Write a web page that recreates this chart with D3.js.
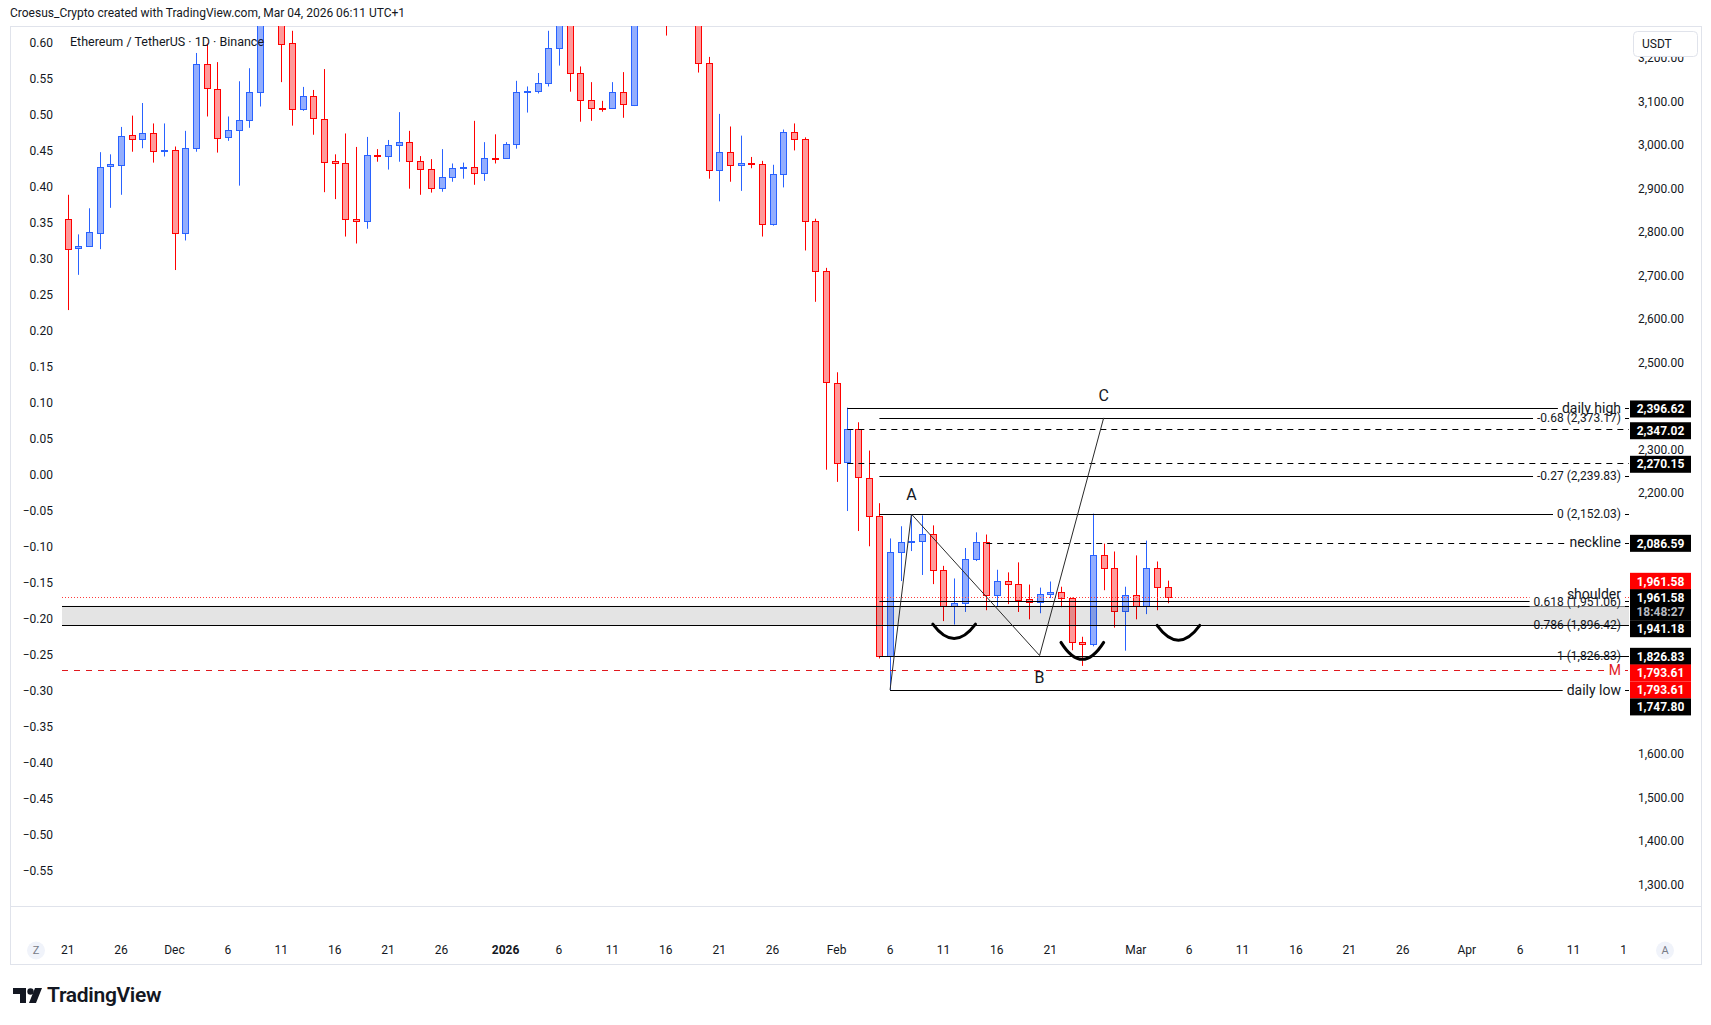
<!DOCTYPE html>
<html>
<head>
<meta charset="utf-8">
<script src="https://cdn.jsdelivr.net/npm/d3@7"></script>
<style>
  body { margin: 0; background: #fff; }
  svg { display: block; font-family: Roboto, "Liberation Sans", sans-serif; }
</style>
</head>
<body>
<svg id="chart" width="1711" height="1025"></svg>
<script>
// ETH/USDT daily candles, Nov 21 2025 -> Mar 4 2026
const startDay = "2025-11-21";
const opens = [
  2831, 2763, 2768, 2800, 2951, 2956, 3023, 3014, 3027, 2987,
  2988, 2797, 2993, 3186, 3130, 3018, 3034, 3057, 3122, 3320, 3330, 3234, 3082, 3112, 3061, 2963,
  2958, 2830, 2825, 2977, 2974, 3000, 3007, 2963, 2945, 2901, 2926, 2949, 2949, 2935, 2971,
  2970, 3002, 3123, 3124, 3142, 3223, 3290, 3165, 3103, 3085, 3085, 3122, 3094, 3330, 3360, 3330,
  3300, 3310, 3290, 3188, 2943, 2985, 2954, 2959, 2957, 2818, 2934, 3030, 3015, 2826, 2710,
  2454, 2270.15, 2347, 2236, 2148, 1827, 2065, 2088, 2091, 2107, 2024, 1941, 1948, 2049, 2088,
  1966, 1999, 1992, 1957, 1950, 1969, 1973, 1960, 1858, 1854, 2058, 2028, 1930,
  1966, 1941, 2028, 1985
];
const highs = [
  2886, 2795, 2855, 2984, 2979, 3042, 3068, 3097, 3050, 3050,
  2997, 3033, 3212, 3234, 3191, 3066, 3147, 3177, 3350, 3440, 3390, 3263, 3134, 3127, 3175, 2979,
  3027, 2996, 3019, 2991, 3012, 3076, 3033, 2975, 2968, 2991, 2958, 2960, 3056, 3007, 3025,
  3007, 3148, 3135, 3166, 3263, 3305, 3300, 3181, 3145, 3102, 3145, 3168, 3360, 3400, 3390, 3350,
  3340, 3330, 3300, 3203, 3072, 3043, 3022, 2973, 2964, 2955, 3036, 3050, 3018, 2831, 2718,
  2478, 2396.62, 2363, 2298, 2177, 2096, 2124, 2152, 2149, 2126, 2033, 2004, 2074, 2110, 2105,
  2024, 2018, 2041, 1990, 1983, 1997, 1985, 1960, 1870, 2153, 2084, 2066, 1985,
  2057, 2091, 2043, 1999
];
const lows = [
  2621, 2702, 2767, 2761, 2856, 2886, 2985, 2993, 2960, 2974,
  2713, 2781, 2985, 3066, 2983, 3010, 2907, 3040, 3089, 3290, 3145, 3045, 3079, 3024, 2892, 2876,
  2790, 2774, 2808, 2962, 2944, 2962, 2900, 2886, 2891, 2893, 2916, 2923, 2909, 2918, 2958,
  2969, 2992, 3075, 3119, 3135, 3183, 3123, 3054, 3056, 3077, 3085, 3063, 3090, 3300, 3290, 3252,
  3285, 3280, 3167, 2923, 2871, 2916, 2895, 2947, 2790, 2815, 2903, 2988, 2758, 2640, 2254,
  2226, 2159, 2113, 2078, 1820, 1747.80, 1998, 2067, 2012, 1991, 1906, 1898, 1927, 2044, 1931,
  1940, 1945, 1927, 1910, 1924, 1959, 1938, 1839, 1803, 1848, 1977, 1891, 1838,
  1910, 1922, 1931, 1947
];
const closes = [
  2763, 2768, 2800, 2951, 2956, 3022, 3014, 3027, 2986, 2988,
  2797, 2993, 3186, 3130, 3017, 3034, 3057, 3122, 3320, 3330, 3234, 3082, 3112, 3062, 2963, 2958,
  2830, 2825, 2977, 2976, 3000, 3007, 2963, 2945, 2901, 2926, 2947, 2950, 2935, 2970, 2969,
  3002, 3122, 3125, 3142, 3223, 3290, 3165, 3103, 3085, 3084, 3122, 3094, 3330, 3360, 3330, 3300,
  3310, 3290, 3188, 2943, 2985, 2954, 2959, 2957, 2818, 2934, 3030, 3015, 2826, 2710, 2454,
  2270, 2347.02, 2236, 2148, 1827, 2065, 2088, 2091, 2107, 2024, 1941, 1948, 2049, 2088, 1966,
  1999, 1992, 1956, 1950, 1969, 1973, 1960, 1858, 1854, 2058, 2028, 1930, 1966,
  1941, 2028, 1985, 1961.58
];

// axes
const priceTicks = [3200, 3100, 3000, 2900, 2800, 2700, 2600, 2500, 2400, 2300, 2200, 2100,
  2000, 1900, 1800, 1700, 1600, 1500, 1400, 1300];
const pctTicks = [0.60, 0.55, 0.50, 0.45, 0.40, 0.35, 0.30, 0.25, 0.20, 0.15, 0.10, 0.05, 0,
  -0.05, -0.10, -0.15, -0.20, -0.25, -0.30, -0.35, -0.40, -0.45, -0.50, -0.55];
const timeTickDates = ["2025-11-21", "2025-11-26", "2025-12-01", "2025-12-06", "2025-12-11",
  "2025-12-16", "2025-12-21", "2025-12-26", "2026-01-01", "2026-01-06", "2026-01-11",
  "2026-01-16", "2026-01-21", "2026-01-26", "2026-02-01", "2026-02-06", "2026-02-11",
  "2026-02-16", "2026-02-21", "2026-03-01", "2026-03-06", "2026-03-11", "2026-03-16",
  "2026-03-21", "2026-03-26", "2026-04-01", "2026-04-06", "2026-04-11", "2026-04-16"];
const timeTickLabels = ["21", "26", "Dec", "6", "11", "16", "21", "26", "2026", "6", "11",
  "16", "21", "26", "Feb", "6", "11", "16", "21", "Mar", "6", "11", "16", "21", "26",
  "Apr", "6", "11", "16"];

// drawings
const fibRatios = [-0.68, -0.27, 0, 0.618, 0.786, 1];
const fibPrices = [2373.17, 2239.83, 2152.03, 1951.06, 1896.42, 1826.83];
const fibStart = "2026-02-05";
const markNames = ["daily high", "neckline", "daily low"];
const markPrices = [2396.62, 2086.59, 1747.80];
const markStarts = ["2026-02-02", "2026-02-15", "2026-02-06"];
const edgePrices = [2347.02, 2270.15];
const edgeStart = "2026-02-02";
const shoulderZone = [1941.18, 1896.42];
const mLevel = 1793.61;
const lastPrice = 1961.58;
const waveDates = ["2026-02-06", "2026-02-08", "2026-02-20", "2026-02-26"];
const wavePrices = [1747.80, 2152.03, 1826.83, 2373.17];
const waveNames = ["", "A", "B", "C"];
const arcFrom = ["2026-02-10", "2026-02-22", "2026-03-03"];
const arcTo = ["2026-02-14", "2026-02-26", "2026-03-07"];
const arcTop = [1899, 1857, 1896];
const arcBottom = [1866, 1818, 1862];

// right-scale price tags
const tagPrices = [2396.62, 2347.02, 2270.15, 2086.59, 1961.58, 1961.58, 1941.18, 1826.83, 1793.61, 1793.61, 1747.80];
const tagRed = [false, false, false, false, true, false, false, false, true, true, false];
const countdown = "18:48:27";

document.addEventListener("DOMContentLoaded", function () {
  const svg = d3.select("#chart");
  const fmt = d3.format(",.2f");
  const pane = { left: 62, right: 1629, top: 26, bottom: 906 };
  const ink = "#131722";
  const up = "#2962ff", down = "#ff0000";

  const x = d3.scaleUtc()
    .domain([new Date("2025-11-21"), new Date("2026-04-01")])
    .range([67.7, 1466.8]);
  const y = d3.scaleLinear().domain([3100, 1300]).range([101.7, 884.7]);
  const yPct = d3.scaleLinear().domain([0.60, -0.55]).range([42.7, 870.7]);
  const px = v => Math.round(v) + 0.5;

  const candles = opens.map((o, i) => ({
    date: d3.utcDay.offset(new Date(startDay), i),
    o: o, h: highs[i], l: lows[i], c: closes[i]
  }));

  // tag boxes on the right scale (stacked like TradingView does it)
  const tagShift = [1.3, 1.5, 1.6, 0.8, -15.6, 0.8, 22.9, 0.8, 3, 20, 17];
  const tags = tagPrices.map((p, i) => {
    const cy = y(p) + tagShift[i];
    const h = i === 5 ? 31 : 17;
    return { price: p, cy: cy, top: cy - 8.5, bottom: cy - 8.5 + h, red: tagRed[i], tall: i === 5 };
  });

  const defs = svg.append("defs");
  defs.append("clipPath").attr("id", "pane")
    .append("rect")
    .attr("x", pane.left).attr("y", pane.top)
    .attr("width", pane.right - pane.left).attr("height", pane.bottom - pane.top);
  defs.append("clipPath").attr("id", "timeclip")
    .append("rect").attr("x", 10).attr("y", 930).attr("width", pane.right - 12).attr("height", 40);

  // header
  svg.append("text").attr("x", 10).attr("y", 17)
    .attr("font-size", 12).attr("fill", ink)
    .text("Croesus_Crypto created with TradingView.com, Mar 04, 2026 06:11 UTC+1");

  // frame
  const frame = svg.append("g").attr("stroke", "#e0e3eb").attr("stroke-width", 1);
  frame.append("line").attr("x1", 10).attr("x2", 1702).attr("y1", 26.5).attr("y2", 26.5);
  frame.append("line").attr("x1", 10.5).attr("x2", 10.5).attr("y1", 26).attr("y2", 965);
  frame.append("line").attr("x1", 1701.5).attr("x2", 1701.5).attr("y1", 26).attr("y2", 965);
  frame.append("line").attr("x1", 10).attr("x2", 1702).attr("y1", 906.5).attr("y2", 906.5);
  frame.append("line").attr("x1", 10).attr("x2", 1702).attr("y1", 964.5).attr("y2", 964.5);

  // left percent scale
  svg.append("g").selectAll("text")
    .data(pctTicks)
    .join("text")
    .attr("x", 53).attr("y", d => yPct(d)).attr("dy", "0.35em")
    .attr("text-anchor", "end").attr("font-size", 12).attr("fill", ink)
    .text(d => d3.format(".2f")(d));

  // right price scale: labels sitting under a tag are hidden
  const hidden = v => tags.some(t => y(v) > t.top && y(v) < t.bottom);
  svg.append("g").selectAll("text")
    .data(priceTicks.filter(v => !hidden(v)))
    .join("text")
    .attr("x", 1684).attr("y", d => y(d)).attr("dy", "0.35em")
    .attr("text-anchor", "end").attr("font-size", 12).attr("fill", ink)
    .text(d => fmt(d));

  // time scale
  const timeG = svg.append("g");
  timeG.selectAll("text")
    .data(timeTickDates)
    .join("text")
    .attr("x", d => x(new Date(d))).attr("y", 950).attr("dy", "0.35em")
    .attr("text-anchor", "middle").attr("font-size", 12).attr("fill", ink)
    .attr("font-weight", (d, i) => timeTickLabels[i] === "2026" ? 700 : 400)
    .attr("clip-path", "url(#timeclip)")
    .text((d, i) => timeTickLabels[i]);
  [[36, "Z"], [1665, "A"]].forEach(([cx, t]) => {
    timeG.append("circle").attr("cx", cx).attr("cy", 950.5).attr("r", 9).attr("fill", "#f0f3fa");
    timeG.append("text").attr("x", cx).attr("y", 950.5).attr("dy", "0.35em")
      .attr("text-anchor", "middle").attr("font-size", 11).attr("fill", "#787b86").text(t);
  });

  // candles
  const plot = svg.append("g").attr("clip-path", "url(#pane)");
  const col = d => d.c >= d.o ? up : down;
  plot.selectAll("line.wick")
    .data(candles)
    .join("line").attr("class", "wick")
    .attr("x1", d => px(x(d.date))).attr("x2", d => px(x(d.date)))
    .attr("y1", d => y(d.h)).attr("y2", d => y(d.l))
    .attr("stroke", col).attr("stroke-width", 1);
  plot.selectAll("rect.body")
    .data(candles)
    .join("rect").attr("class", "body")
    .attr("x", d => Math.round(x(d.date)) - 2.5)
    .attr("width", 6)
    .attr("y", d => Math.round(y(Math.max(d.o, d.c))) + 0.5)
    .attr("height", d => Math.max(1, Math.round(Math.abs(y(d.o) - y(d.c)))))
    .attr("fill", d => d.c >= d.o ? "#93aefe" : "#ff9a9a")
    .attr("stroke", col).attr("stroke-width", 1);

  // shoulder zone
  const draw = svg.append("g").attr("clip-path", "url(#pane)");
  draw.append("rect")
    .attr("x", pane.left).attr("width", pane.right - pane.left)
    .attr("y", y(shoulderZone[0])).attr("height", y(shoulderZone[1]) - y(shoulderZone[0]))
    .attr("fill", "rgba(0,0,0,0.105)");

  // horizontal lines
  const hline = (from, price, color, dash) => draw.append("line")
    .attr("x1", from).attr("x2", pane.right)
    .attr("y1", px(y(price))).attr("y2", px(y(price)))
    .attr("stroke", color).attr("stroke-width", 1)
    .attr("stroke-dasharray", dash);
  markPrices.forEach((p, i) => hline(x(new Date(markStarts[i])), p, "#000", i === 1 ? "6,5" : null));
  edgePrices.forEach(p => hline(x(new Date(edgeStart)), p, "#000", "6,5"));
  fibPrices.forEach(p => hline(x(new Date(fibStart)), p, "#000", null));
  hline(pane.left, mLevel, "#e0191e", "6,6");
  hline(pane.left, lastPrice, "#ff3b3b", "1,2");

  // labels at right end of the lines
  const labelG = svg.append("g");
  const label = (text, yy, size, color, gap) => {
    const t = labelG.append("text")
      .attr("x", 1621).attr("y", yy).attr("dy", "0.35em")
      .attr("text-anchor", "end").attr("font-size", size).attr("fill", color)
      .text(text);
    if (gap) {
      const w = t.node().getComputedTextLength();
      labelG.insert("rect", "text")
        .attr("x", 1621 - w - 4).attr("width", w + 8)
        .attr("y", yy - 5).attr("height", 10).attr("fill", "#fff");
    }
  };
  markPrices.forEach((p, i) => label(markNames[i], y(p), 14, ink, true));
  fibPrices.forEach((p, i) => label(`${fibRatios[i]} (${fmt(p)})`, y(p), 12, ink, i < 4));
  label("M", y(mLevel), 14, "#e0191e", true);
  label("shoulder", y(shoulderZone[0]) - 12, 14, ink, false);

  // zone borders over the label gaps
  shoulderZone.forEach(p => draw.append("line")
    .attr("x1", pane.left).attr("x2", pane.right)
    .attr("y1", px(y(p))).attr("y2", px(y(p)))
    .attr("stroke", "#000").attr("stroke-width", 1));

  // wave 0-A-B-C
  const wave = waveDates.map((d, i) => [x(new Date(d)), y(wavePrices[i])]);
  draw.append("path")
    .attr("d", d3.line()(wave))
    .attr("fill", "none").attr("stroke", "#2a2a2a").attr("stroke-width", 1);
  const waveDy = [0, -20, 22, -22];
  wave.forEach((pt, i) => {
    if (!waveNames[i]) return;
    svg.append("text").attr("x", pt[0]).attr("y", pt[1] + waveDy[i]).attr("dy", "0.35em")
      .attr("text-anchor", "middle").attr("font-size", 16).attr("fill", ink)
      .text(waveNames[i]);
  });

  // shoulder / head arcs
  arcFrom.forEach((d, i) => {
    const x0 = x(new Date(d)), x1 = x(new Date(arcTo[i]));
    const yt = y(arcTop[i]), yb = y(arcBottom[i]);
    draw.append("path")
      .attr("d", `M${x0},${yt} Q${(x0 + x1) / 2},${2 * yb - yt} ${x1},${yt}`)
      .attr("fill", "none").attr("stroke", "#000").attr("stroke-width", 3)
      .attr("stroke-linecap", "round");
  });

  // price tags
  const tagG = svg.append("g");
  tags.forEach(t => {
    tagG.append("rect")
      .attr("x", 1630).attr("y", t.top).attr("width", 61).attr("height", t.bottom - t.top)
      .attr("fill", t.red ? "#ff0000" : "#000");
    tagG.append("text").attr("x", 1660.5).attr("y", t.cy).attr("dy", "0.35em")
      .attr("text-anchor", "middle").attr("font-size", 12).attr("font-weight", 700)
      .attr("fill", "#fff").text(fmt(t.price));
    if (t.tall) {
      tagG.append("text").attr("x", 1660.5).attr("y", t.cy + 13.6).attr("dy", "0.35em")
        .attr("text-anchor", "middle").attr("font-size", 12).attr("font-weight", 700)
        .attr("fill", "#b8bac0").text(countdown);
    }
  });

  // legend + currency button
  svg.append("text").attr("x", 70).attr("y", 42).attr("dy", "0.35em")
    .attr("font-size", 12.5).attr("fill", ink)
    .text("Ethereum / TetherUS \u00b7 1D \u00b7 Binance");
  svg.append("rect").attr("x", 1633.5).attr("y", 31.5).attr("width", 64).attr("height", 25)
    .attr("rx", 4).attr("fill", "#fff").attr("stroke", "#e0e3eb");
  svg.append("text").attr("x", 1642).attr("y", 44).attr("dy", "0.35em")
    .attr("font-size", 12).attr("fill", ink).text("USDT");

  // TradingView logo
  const logo = svg.append("g").attr("fill", ink);
  logo.append("path").attr("d", "M13,988 H26 V1003 H20 V994 H13 Z");
  logo.append("circle").attr("cx", 30.5).attr("cy", 991.5).attr("r", 3.2);
  logo.append("path").attr("d", "M35,988 H42 L36,1003 H29 Z");
  logo.append("text").attr("x", 47).attr("y", 1002)
    .attr("font-size", 21).attr("font-weight", 600).attr("letter-spacing", -0.3)
    .attr("fill", ink).text("TradingView");
});
</script>
</body>
</html>
